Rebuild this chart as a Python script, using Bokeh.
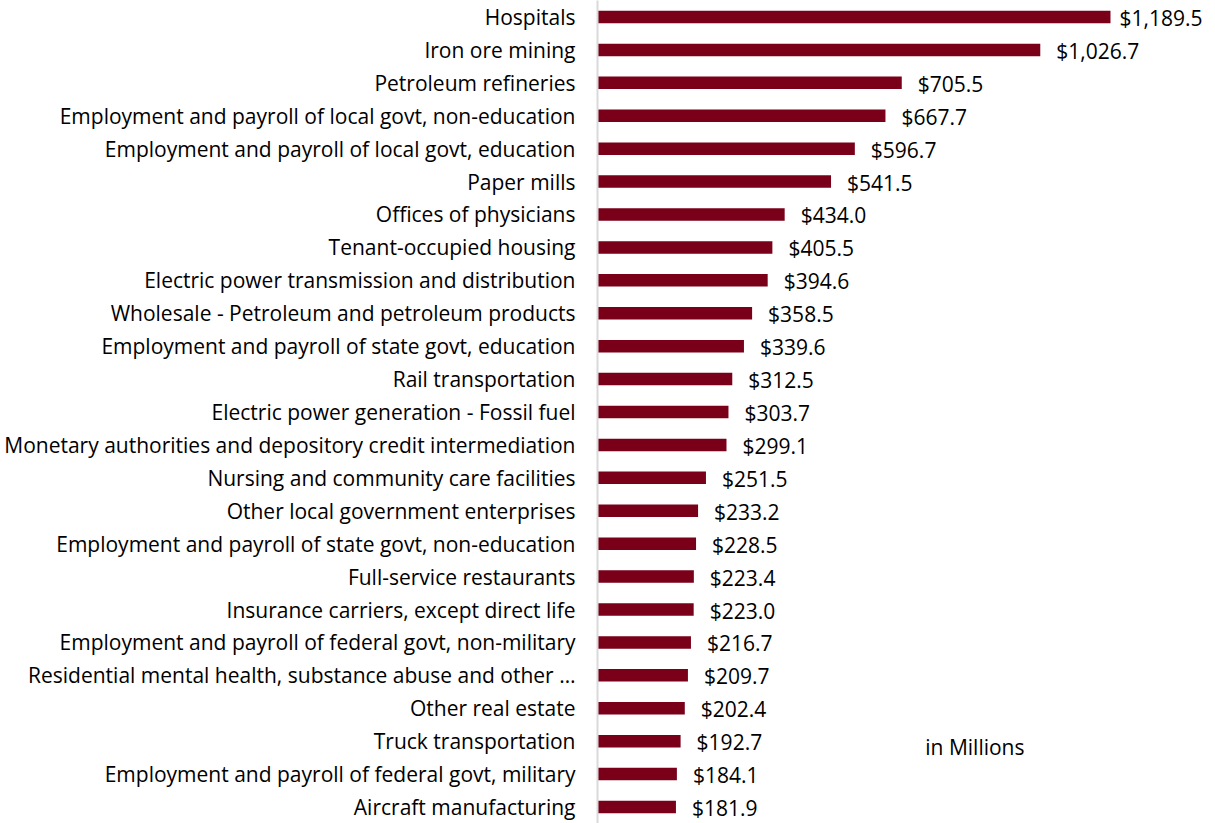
from bokeh.plotting import figure
from bokeh.models import ColumnDataSource, FactorRange, Range1d
from bokeh.core.properties import value
from bokeh.embed import file_html
from bokeh.resources import INLINE

industries = [
    "Hospitals",
    "Iron ore mining",
    "Petroleum refineries",
    "Employment and payroll of local govt, non-education",
    "Employment and payroll of local govt, education",
    "Paper mills",
    "Offices of physicians",
    "Tenant-occupied housing",
    "Electric power transmission and distribution",
    "Wholesale - Petroleum and petroleum products",
    "Employment and payroll of state govt, education",
    "Rail transportation",
    "Electric power generation - Fossil fuel",
    "Monetary authorities and depository credit intermediation",
    "Nursing and community care facilities",
    "Other local government enterprises",
    "Employment and payroll of state govt, non-education",
    "Full-service restaurants",
    "Insurance carriers, except direct life",
    "Employment and payroll of federal govt, non-military",
    "Residential mental health, substance abuse and other \u2026",
    "Other real estate",
    "Truck transportation",
    "Employment and payroll of federal govt, military",
    "Aircraft manufacturing",
]
values_millions = [
    1189.5, 1026.7, 705.5, 667.7, 596.7, 541.5, 434.0, 405.5, 394.6, 358.5,
    339.6, 312.5, 303.7, 299.1, 251.5, 233.2, 228.5, 223.4, 223.0, 216.7,
    209.7, 202.4, 192.7, 184.1, 181.9,
]
unit_note = "in Millions"

FONT = "Open Sans"
FSIZE = "21px"
BAR_COLOR = "#7A001A"

labels = ["${:,.1f}".format(v) for v in values_millions]
vmax = max(values_millions)
offsets = [9 if v == vmax else 16 for v in values_millions]

src = ColumnDataSource(dict(cat=industries, val=values_millions, lab=labels, off=offsets))

p = figure(
    width=1215, height=823,
    y_range=FactorRange(factors=list(reversed(industries))),
    x_range=Range1d(0, 1433),
    output_backend="svg", toolbar_location=None,
    min_border_left=597, min_border_right=0, min_border_top=0, min_border_bottom=0,
)
p.outline_line_color = None
p.grid.visible = False
p.xaxis.visible = False

p.hbar(y="cat", right="val", left=0, height=0.38, source=src,
       fill_color=BAR_COLOR, line_color=None)

p.text(x="val", y="cat", text="lab", source=src, x_offset="off", y_offset=1,
       text_font=value(FONT), text_font_size=FSIZE, text_color="#000000",
       text_align="left", text_baseline="middle")

p.text(x=[760], y=[industries[22]], text=[unit_note], y_offset=6,
       text_font=value(FONT), text_font_size=FSIZE, text_color="#000000",
       text_align="left", text_baseline="middle")

ax = p.yaxis[0]
ax.axis_line_color = "#d9d9d9"
ax.axis_line_width = 2
ax.major_tick_line_color = None
ax.minor_tick_line_color = None
ax.major_label_standoff = 16
ax.major_label_text_font = FONT
ax.major_label_text_font_size = FSIZE
ax.major_label_text_color = "#000000"

open("out.html", "w").write(file_html(p, INLINE))
